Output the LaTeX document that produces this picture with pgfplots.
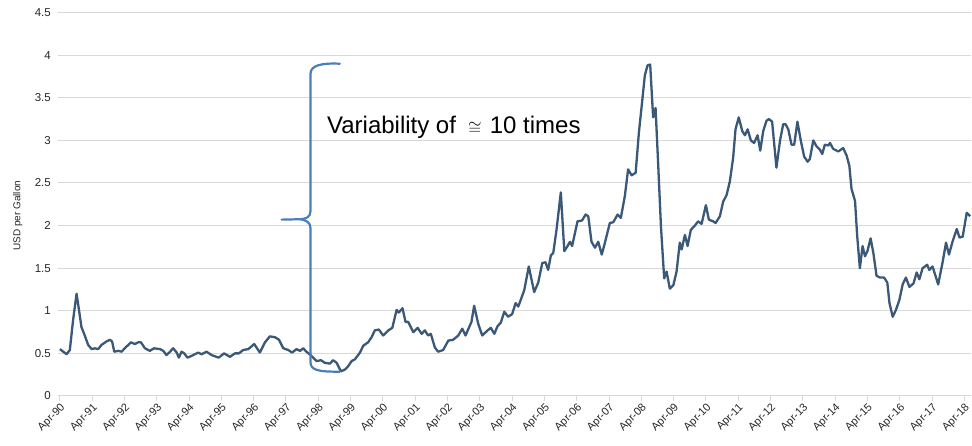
\documentclass[border=0pt]{standalone}
\usepackage{fontspec}
\setmainfont{Liberation Sans}
\usepackage{pgfplots}
\pgfplotsset{compat=1.18}
\definecolor{linec}{RGB}{58,88,120}
\definecolor{bracec}{RGB}{74,126,187}
\definecolor{gridc}{RGB}{217,217,217}

\begin{document}
\begin{tikzpicture}
\path[use as bounding box] (-58pt,-50pt) rectangle (914pt,396pt);
\begin{axis}[
    anchor=south west, at={(0pt,0pt)},
    scale only axis,
    width=913.3pt, height=383.4pt,
    xmin=-0.7, xmax=338.6,
    ymin=0, ymax=4.5,
    axis x line*=bottom, axis y line*=left,
    x axis line style={gridc, line width=1pt, -},
    y axis line style={draw=none},
    ytick={0,0.5,...,4.5},
    yticklabels={0,0.5,1,1.5,2,2.5,3,3.5,4,4.5},
    ymajorgrids,
    grid style={gridc, line width=1pt},
    ytick style={draw=none},
    xtick={0,12,...,336},
    xticklabels={Apr-90,Apr-91,Apr-92,Apr-93,Apr-94,Apr-95,Apr-96,Apr-97,Apr-98,Apr-99,Apr-00,Apr-01,Apr-02,Apr-03,Apr-04,Apr-05,Apr-06,Apr-07,Apr-08,Apr-09,Apr-10,Apr-11,Apr-12,Apr-13,Apr-14,Apr-15,Apr-16,Apr-17,Apr-18},
    tick align=outside,
    major tick length=5pt,
    xtick style={gridc, line width=1pt},
    tick label style={font=\fontsize{11.5}{13}\selectfont, text=black!85},
    yticklabel style={inner sep=2pt},
    xticklabel style={rotate=45, anchor=north east, inner sep=1pt, font=\fontsize{11}{12}\selectfont},
    /pgf/number format/assume math mode=true,
    ylabel={USD per Gallon},
    ylabel style={font=\fontsize{10}{11}\selectfont, text=black!85},
    every axis y label/.append style={at={(axis description cs:-0.044,0.47)}, anchor=center},
]
\addplot[linec, line width=2.3pt, line join=round] coordinates {
(0,0.55) (2.5,0.49) (3.7,0.54) (4.9,0.89) (6.2,1.20) (7.1,1.01) (8.0,0.81) (9.0,0.73)
(10.5,0.60) (11.8,0.55) (13,0.56) (14.2,0.55) (15.5,0.60) (17.3,0.64) (18.6,0.66) (19.4,0.64)
(20.2,0.52) (21.7,0.53) (22.9,0.52) (24.1,0.56) (26.4,0.63) (27.9,0.61) (29.1,0.63) (30.1,0.63)
(31.6,0.56) (33.4,0.53) (35,0.56) (37.2,0.55) (38.4,0.53) (39.6,0.48) (40.9,0.52) (42.1,0.56)
(43.4,0.51) (44.2,0.45) (45.2,0.52) (46.2,0.50) (47.4,0.45) (48.9,0.47) (51.4,0.51) (52.6,0.49)
(54.5,0.52) (56.4,0.48) (59,0.45) (61,0.50) (63.2,0.46) (65,0.50) (66.5,0.50) (68.1,0.54)
(70,0.55) (72.2,0.61) (74.3,0.51) (76.2,0.63) (78,0.70) (79.9,0.69) (81.4,0.66) (83,0.56)
(84.8,0.54) (86.3,0.51) (87.9,0.55) (89.2,0.53) (90.4,0.56) (91.6,0.52) (93.5,0.47) (95.4,0.41)
(97,0.42) (98.4,0.39) (100.3,0.38) (101.5,0.42) (102.8,0.39) (104.4,0.29) (105.9,0.31) (107.1,0.35)
(108.4,0.41) (109.6,0.43) (111.5,0.51) (112.7,0.59) (114.5,0.63) (115.8,0.69) (117,0.77) (118.5,0.78)
(120.1,0.71) (122,0.77) (123.5,0.80) (125.1,1.01) (125.9,0.98) (127.3,1.03) (128.4,0.87) (129.4,0.87)
(131.3,0.75) (132.9,0.80) (134.4,0.73) (135.6,0.77) (136.8,0.71) (137.8,0.73) (139.3,0.57) (140.5,0.52)
(142.4,0.54) (144.3,0.65) (146.1,0.66) (148,0.71) (149.5,0.79) (150.7,0.71) (152.9,0.87) (153.9,1.06)
(155.4,0.85) (156.9,0.71) (158.9,0.77) (160.1,0.80) (161.4,0.73) (162.6,0.82) (163.8,0.86) (165.1,0.99)
(166.5,0.93) (168,0.96) (169.3,1.09) (170.3,1.05) (172.5,1.24) (174.2,1.52) (176.2,1.22) (177.7,1.33)
(179.2,1.56) (180.4,1.57) (181.4,1.48) (182.4,1.65) (183.3,1.68) (184.5,1.95) (186.1,2.39) (187.4,1.70)
(188.6,1.76) (189.5,1.81) (190.3,1.76) (192.3,2.05) (194,2.06) (195.3,2.13) (196.3,2.11) (197.5,1.81)
(198.8,1.74) (200,1.81) (201.3,1.66) (202.5,1.80) (204.3,2.03) (205.6,2.04) (207.2,2.13) (208.4,2.09)
(209.9,2.35) (211.1,2.66) (212.4,2.59) (213.9,2.62) (215.1,3.09) (216.3,3.45) (217.3,3.76) (218.3,3.88)
(219.3,3.89) (220.4,3.27) (221.3,3.38) (222.3,2.70) (223.3,1.99) (224.5,1.38) (225.4,1.46) (226.6,1.26)
(227.9,1.30) (229.1,1.46) (230.3,1.80) (231,1.72) (232.2,1.89) (233.2,1.76) (234.4,1.95) (235.9,2.00)
(237.1,2.05) (238.4,2.02) (240,2.24) (241.1,2.07) (242.7,2.05) (243.6,2.03) (245.2,2.11) (246.4,2.28)
(247.7,2.36) (248.9,2.52) (250.1,2.79) (251,3.13) (252.2,3.27) (253.5,3.11) (254.5,3.06) (255.5,3.13)
(256.7,3.00) (257.9,2.97) (259.2,3.06) (260.2,2.88) (261.3,3.11) (262.5,3.23) (263.4,3.25) (264.6,3.22)
(266.2,2.68) (267.5,2.99) (268.7,3.19) (269.6,3.19) (270.6,3.13) (271.8,2.95) (272.8,2.95) (274,3.22)
(275.3,2.99) (276.5,2.81) (277.8,2.75) (278.6,2.78) (279.9,3.00) (281.1,2.93) (282.4,2.89) (283.2,2.84)
(284.2,2.95) (285.5,2.94) (286.1,2.97) (287.3,2.90) (289.2,2.87) (291,2.91) (292.3,2.82) (293.3,2.70)
(294.1,2.43) (295.4,2.29) (296.2,1.88) (297.2,1.50) (298.2,1.76) (299.1,1.64) (300,1.70) (301.2,1.85)
(302.2,1.68) (303.4,1.41) (304.7,1.39) (306.2,1.39) (307.4,1.33) (308.2,1.09) (309.4,0.93) (310.6,1.01)
(311.9,1.13) (313.1,1.31) (314.3,1.39) (315.6,1.28) (317.1,1.32) (318.3,1.45) (319.3,1.37) (320.5,1.50)
(322.2,1.54) (323,1.48) (324.2,1.52) (326.3,1.31) (328,1.58) (329.2,1.80) (330.3,1.66) (331.7,1.82)
(333.2,1.96) (334.2,1.86) (335.4,1.87) (336.9,2.15) (338.2,2.11)
};
% curly brace annotation
\draw[bracec, line width=2.2pt, line cap=round]
  (axis cs:104,3.90) .. controls (axis cs:97,3.91) and (axis cs:93.1,3.88) .. (axis cs:93.1,3.78)
  -- (axis cs:93.1,2.17) .. controls (axis cs:93.1,2.10) and (axis cs:91.5,2.08) .. (axis cs:89.5,2.075)
  -- (axis cs:82.4,2.07);
\draw[bracec, line width=2.2pt, line cap=round]
  (axis cs:89.5,2.075) .. controls (axis cs:91.5,2.06) and (axis cs:93.1,2.04) .. (axis cs:93.1,1.97)
  -- (axis cs:93.1,0.40) .. controls (axis cs:93.1,0.30) and (axis cs:96,0.285) .. (axis cs:104,0.285);
\node[anchor=west, inner sep=0pt, font=\fontsize{24}{28}\selectfont] at (axis cs:99.2,3.15)
  {Variability of\hspace{0.5em}{\fontsize{17}{17}\selectfont$\cong$}\hspace{0.35em}10 times};
\end{axis}
\end{tikzpicture}
\end{document}
